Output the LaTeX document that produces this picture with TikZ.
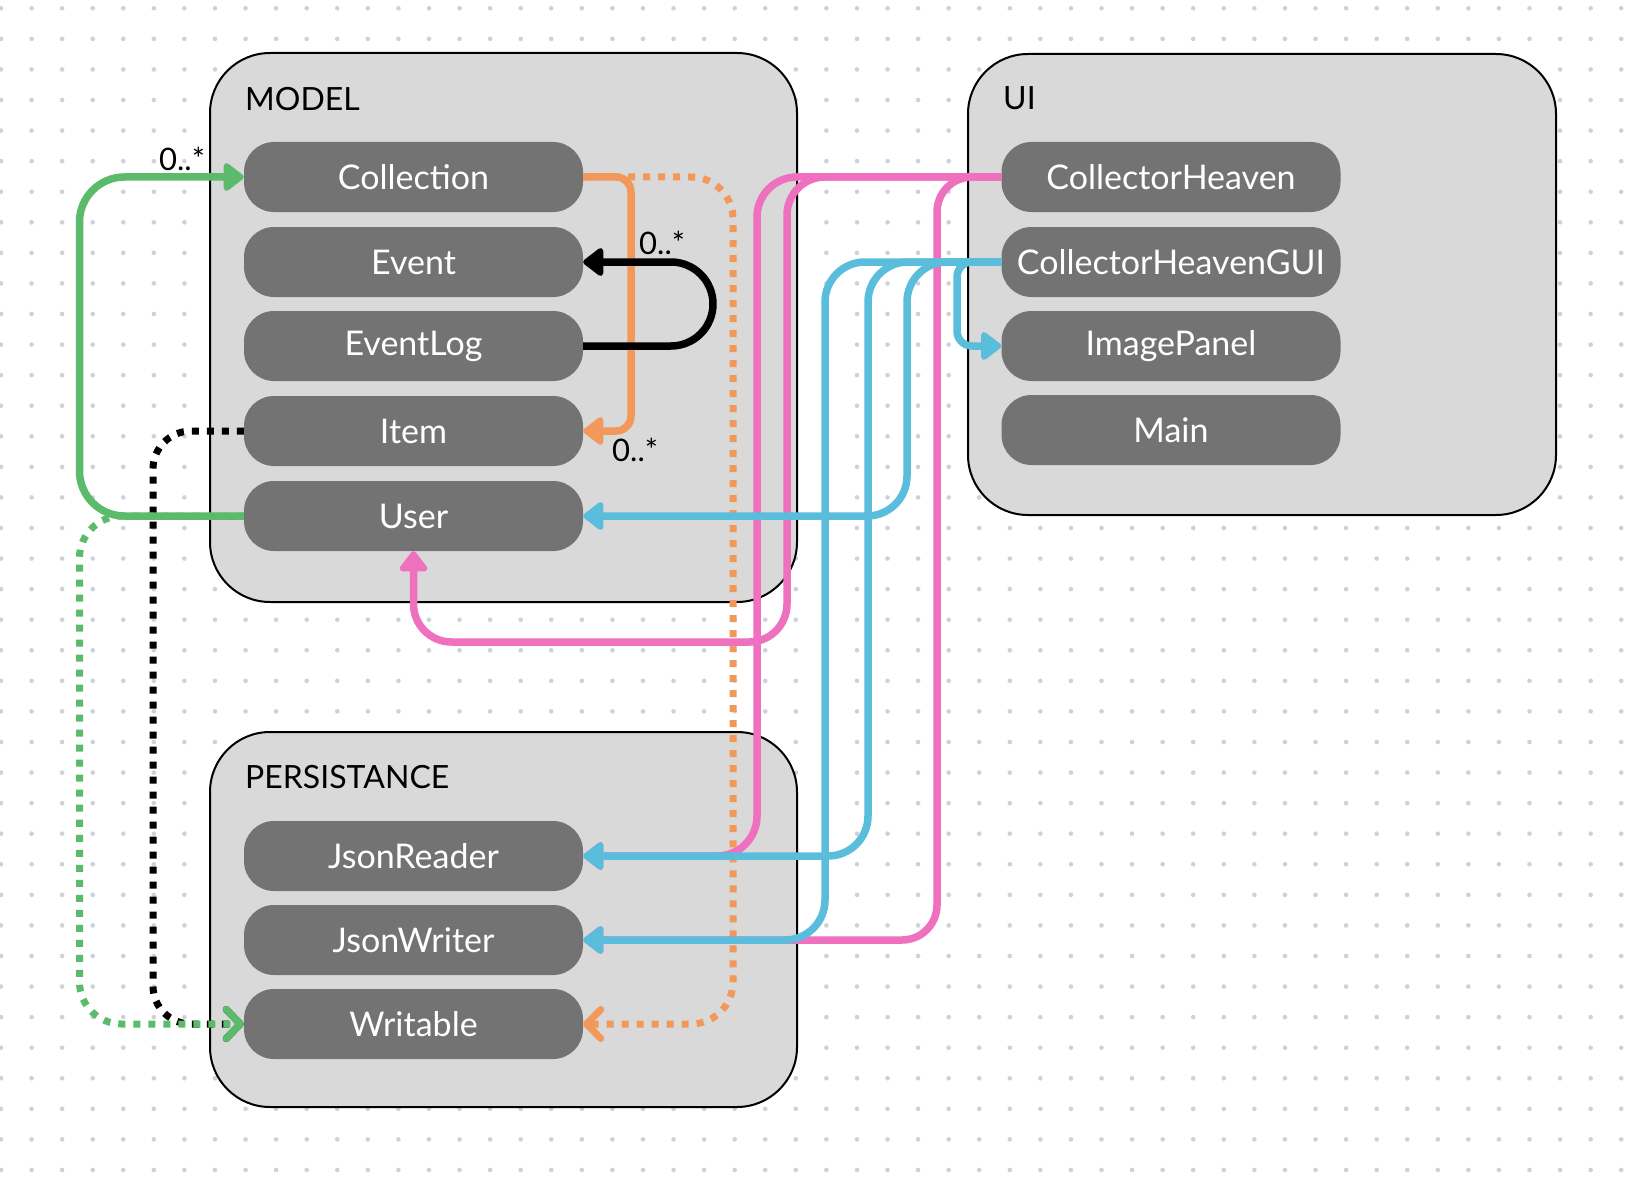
\documentclass[tikz,border=0pt]{standalone}
\usepackage{fontspec}
\setmainfont{Lato}
\usetikzlibrary{arrows.meta}
\definecolor{dotc}{HTML}{CDD1DC}
\definecolor{boxc}{HTML}{D9D9D9}
\definecolor{pillc}{HTML}{737373}
\definecolor{grnc}{HTML}{5CBB6A}
\definecolor{orgc}{HTML}{F2985B}
\definecolor{pnkc}{HTML}{EE70BF}
\definecolor{bluc}{HTML}{5ABDDC}
\begin{document}
\begin{tikzpicture}[x=1pt, y=-1pt,
  pkg/.style={draw, line width=2pt, fill=boxc, rounded corners=60pt, inner sep=0pt},
  pkgname/.style={anchor=base west, inner sep=0pt, font=\fontsize{32}{38}\selectfont},
  pill/.style={fill=pillc, text=white, rounded corners=30pt, minimum width=339pt, minimum height=70pt, inner sep=0pt, font=\fontsize{34}{40}\selectfont},
  mult/.style={anchor=base west, inner sep=0pt, font=\fontsize{31}{36}\selectfont},
  lnk/.style={line width=7.5pt},
  dotline/.style={line width=7pt, dash pattern=on 7pt off 8pt},
  fulltip/.style={-{Triangle[length=22pt,width=32pt,round]}},
  opentip/.style={-{Straight Barb[length=14pt,width=29pt,round]}}]
\useasboundingbox[fill=white] (0,0) rectangle (1642,1180);
\foreach \i in {0,...,53}
  \foreach \j in {0,...,38}
    \fill[dotc] (1+30.57*\i, 8.3+30.57*\j) circle[radius=2.3pt];
\node[pkg, minimum width=587pt, minimum height=549pt] (mdl) at (503.5,327.5) {};
\node[pkg, minimum width=588pt, minimum height=461pt] (ui) at (1262,284.5) {};
\node[pkg, minimum width=587pt, minimum height=375pt] (prs) at (503.5,919.5) {};
\node[pkgname] (t0) at (245,111) {MODEL};
\node[pkgname] (t1) at (1003,110) {UI};
\node[pkgname] (t2) at (245,788) {PERSISTANCE};
\node[pill] (m0) at (413.5,177) {Collection};
\node[pill] (m1) at (413.5,262) {Event};
\node[pill] (m2) at (413.5,346) {EventLog};
\node[pill] (m3) at (413.5,431) {Item};
\node[pill] (m4) at (413.5,516) {User};
\node[pill] (u0) at (1171,177) {CollectorHeaven};
\node[pill] (u1) at (1171,262) {CollectorHeavenGUI};
\node[pill] (u2) at (1171,346) {ImagePanel};
\node[pill] (u3) at (1171,430) {Main};
\node[pill] (p0) at (413.5,856) {JsonReader};
\node[pill] (p1) at (413.5,940) {JsonWriter};
\node[pill] (p2) at (413.5,1024) {Writable};
\draw[dotline, orgc, opentip, rounded corners=42pt] (m0.east) -- (733,177) |- (p2.east);
\draw[dotline, black, opentip, rounded corners=38pt] (m3.west) -- (153,431) |- (p2.west);
\draw[dotline, grnc, opentip, rounded corners=42pt] (m4.west) -- (79.5,516) |- (p2.west);
\draw[lnk, grnc, fulltip, rounded corners=45pt] (m4.west) -- (79.5,516) |- (m0.west);
\draw[lnk, orgc, fulltip, rounded corners=15pt] (m0.east) -- (631,177) |- (m3.east);
\draw[lnk, black, fulltip, rounded corners=42pt] (m2.east) -- (713,346) |- (m1.east);
\draw[lnk, pnkc, fulltip, rounded corners=40pt] (u0.west) -- (757,177) |- (p0.east);
\draw[lnk, pnkc, fulltip, rounded corners=38pt] (u0.west) -| (787,642) -| (m4.south);
\draw[lnk, pnkc, fulltip, rounded corners=35pt] (u0.west) -- (937,177) |- (p1.east);
\draw[lnk, bluc, fulltip, rounded corners=40pt] (u1.west) -- (825,262) |- (p1.east);
\draw[lnk, bluc, fulltip, rounded corners=40pt] (u1.west) -- (868,262) |- (p0.east);
\draw[lnk, bluc, fulltip, rounded corners=40pt] (u1.west) -- (907,262) |- (m4.east);
\draw[lnk, bluc, fulltip, rounded corners=15pt] (u1.west) -- (957,262) |- (u2.west);
\node[mult] (l0) at (159,171) {0..*};
\node[mult] (l1) at (639,254) {0..*};
\node[mult] (l2) at (612,461) {0..*};
\end{tikzpicture}
\end{document}
